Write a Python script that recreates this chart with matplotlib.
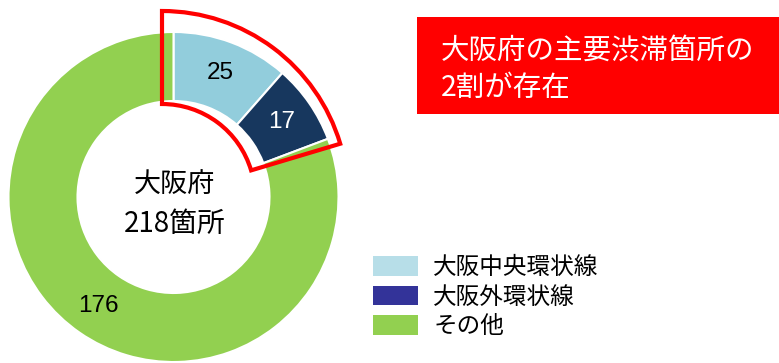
import numpy as np
import matplotlib
matplotlib.use("Agg")
import matplotlib.pyplot as plt
from matplotlib.patches import Patch, Rectangle, Wedge

plt.rcParams["font.family"] = ["Noto Sans CJK JP", "DejaVu Sans"]

# ── データ ──
categories = ["大阪中央環状線", "大阪外環状線", "その他"]
counts = [25, 17, 176]
total_label = ["大阪府", "218箇所"]
callout = "大阪府の主要渋滞箇所の\n2割が存在"

wedge_colors = ["#92CDDC", "#17375E", "#92D050"]
legend_colors = ["#B7DEE8", "#333399", "#92D050"]
label_colors = ["black", "white", "black"]

W, H = 779, 363
fig = plt.figure(figsize=(W / 100, H / 100), dpi=100)
ax = fig.add_axes([0, 0, 1, 1])

# ドーナツ（ピクセル座標系、y は上向き）
cx, cy, r_out, r_in = 173.5, H - 197, 165, 96
total = sum(counts)
wedges, texts, autotexts = ax.pie(
    counts,
    colors=wedge_colors,
    startangle=90,
    counterclock=False,
    center=(cx, cy),
    radius=r_out,
    explode=[0.012, 0.012, 0],
    autopct=lambda p: f"{round(p * total / 100):d}",
    pctdistance=0.8,
    wedgeprops=dict(width=r_out - r_in, edgecolor="white", linewidth=1.5),
    frame=True,
)
for t, c in zip(autotexts, label_colors):
    t.set_color(c)
    t.set_fontsize(17.5)
    t.set_fontfamily(["Liberation Sans", "DejaVu Sans"])
ax.set_xlim(0, W)
ax.set_ylim(0, H)
ax.set_aspect("equal")
ax.axis("off")

# 中央テキスト
ax.text(cx + 1, cy + 12, total_label[0], ha="center", va="center", fontsize=19.5)
ax.text(cx + 1, cy - 27, total_label[1], ha="center", va="center", fontsize=20)

# 環状線部分を囲む赤枠
share = (counts[0] + counts[1]) / total * 360
hl = Wedge((162, cy), 186, 90 - share - 4, 90, width=93,
           fill=False, edgecolor="#FF0000", linewidth=3, joinstyle="miter")
ax.add_patch(hl)

# 赤いコメントボックス
ax.add_patch(Rectangle((417, H - 114), W - 417, 97, facecolor="#FF0000", edgecolor="none"))
ax.text(441, H - 70, callout, ha="left", va="center", color="white",
        fontsize=20.5, linespacing=1.3)

# 凡例
handles = [Patch(facecolor=c, edgecolor="none") for c in legend_colors]
ax.legend(handles, categories, loc="center left", bbox_to_anchor=(373, H - 297),
          bbox_transform=ax.transData, frameon=False, fontsize=17,
          handlelength=1.9, handleheight=0.9, handletextpad=0.65,
          labelspacing=0.28, borderpad=0, borderaxespad=0)

fig.savefig("out.png", dpi=100)
